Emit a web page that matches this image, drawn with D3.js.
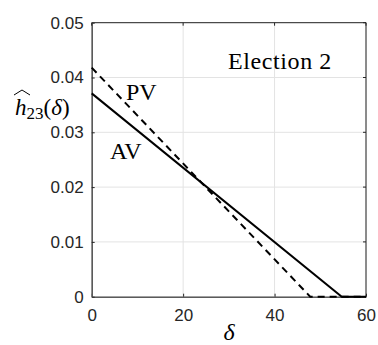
<!DOCTYPE html>
<html>
<head>
<meta charset="utf-8">
<script src="https://cdn.jsdelivr.net/npm/d3@7"></script>
<style>
  body { margin: 0; background: #fff; }
  svg { display: block; }
</style>
</head>
<body>
<script>
// values
var avDelta = [0, 54.7, 60],
    avValues = [0.0371, 0, 0];
var pvDelta = [0, 47.8, 60],
    pvValues = [0.0418, 0, 0];
var xTicks = [0, 20, 40, 60],
    yTicks = [0, 0.01, 0.02, 0.03, 0.04, 0.05];

// dimensions of the plot box
var margin = {top: 22.7, left: 91.7},
    width = 274.3,
    height = 274;

var svg = d3.select("body").append("svg")
    .attr("width", 378)
    .attr("height", 345);

var x = d3.scaleLinear().domain([0, 60]).range([margin.left, margin.left + width]);
var y = d3.scaleLinear().domain([0, 0.05]).range([margin.top + height, margin.top]);

// grid
svg.append("g").selectAll("line.vg")
    .data(xTicks)
  .enter().append("line")
    .attr("x1", function(d) { return x(d); })
    .attr("x2", function(d) { return x(d); })
    .attr("y1", y(0)).attr("y2", y(0.05))
    .style("stroke", "#e3e3e3").style("stroke-width", 1);
svg.append("g").selectAll("line.hg")
    .data(yTicks)
  .enter().append("line")
    .attr("y1", function(d) { return y(d); })
    .attr("y2", function(d) { return y(d); })
    .attr("x1", x(0)).attr("x2", x(60))
    .style("stroke", "#e3e3e3").style("stroke-width", 1);

// box: top and right
svg.append("path")
    .attr("d", "M" + x(0) + "," + y(0.05) + "H" + x(60) + "V" + y(0))
    .style("fill", "none").style("stroke", "#262626").style("stroke-width", 1);

// axes
var fontSans = "'Liberation Sans', Arial, Helvetica, sans-serif";
var xAxis = svg.append("g")
    .attr("transform", "translate(0," + y(0) + ")")
    .call(d3.axisBottom(x).tickValues(xTicks).tickSizeInner(-3).tickSizeOuter(0).tickPadding(12)
      .tickFormat(d3.format("d")));
var yAxis = svg.append("g")
    .attr("transform", "translate(" + x(0) + ",0)")
    .call(d3.axisLeft(y).tickValues(yTicks).tickSizeInner(-3).tickSizeOuter(0).tickPadding(8)
      .tickFormat(function(d) { return d === 0 ? "0" : d3.format(".2f")(d); }));
[xAxis, yAxis].forEach(function(a) {
  a.select(".domain").style("stroke", "#5a5a5a").style("stroke-width", 1.6);
  a.selectAll(".tick line").style("stroke", "#262626");
  a.selectAll(".tick text")
      .style("font-family", fontSans)
      .style("font-size", "17px")
      .style("fill", "#262626");
});

// right-side ticks
svg.append("g").selectAll("line")
    .data(yTicks)
  .enter().append("line")
    .attr("x1", x(60)).attr("x2", x(60) - 3)
    .attr("y1", function(d) { return y(d); })
    .attr("y2", function(d) { return y(d); })
    .style("stroke", "#262626");
svg.append("g").selectAll("line")
    .data(xTicks)
  .enter().append("line")
    .attr("y1", y(0.05)).attr("y2", y(0.05) + 3)
    .attr("x1", function(d) { return x(d); })
    .attr("x2", function(d) { return x(d); })
    .style("stroke", "#262626");

// lines
var line = d3.line()
    .x(function(d) { return x(d[0]); })
    .y(function(d) { return y(d[1]); });

svg.append("path")
    .datum(d3.zip(pvDelta, pvValues))
    .attr("d", line)
    .style("fill", "none").style("stroke", "#000")
    .style("stroke-width", 2).style("stroke-dasharray", "7,5");

svg.append("path")
    .datum(d3.zip(avDelta, avValues))
    .attr("d", line)
    .style("fill", "none").style("stroke", "#000")
    .style("stroke-width", 2);

// labels
var fontSerif = "'Liberation Serif', 'Times New Roman', serif";
svg.append("text")
    .attr("x", 228).attr("y", 69)
    .style("font-family", fontSerif).style("font-size", "24px")
    .style("letter-spacing", "0.6px")
    .text("Election 2");
svg.append("text")
    .attr("x", 126).attr("y", 100)
    .style("font-family", fontSerif).style("font-size", "24px")
    .text("PV");
svg.append("text")
    .attr("x", 110).attr("y", 159)
    .style("font-family", fontSerif).style("font-size", "24px")
    .text("AV");

// x label
svg.append("text")
    .attr("x", 229).attr("y", 340)
    .attr("text-anchor", "middle")
    .style("font-family", fontSerif).style("font-size", "24px").style("font-style", "italic")
    .text("δ");

// y label: widehat h_23(delta)
var yl = svg.append("text")
    .attr("x", 15).attr("y", 115)
    .style("font-family", fontSerif).style("font-size", "23px");
yl.append("tspan").style("font-style", "italic").text("h");
yl.append("tspan").attr("dy", 4).style("font-size", "17px").text("23");
yl.append("tspan").attr("dy", -4).text("(");
yl.append("tspan").style("font-style", "italic").text("δ");
yl.append("tspan").text(")");
svg.append("path")
    .attr("d", "M14,95 L22,90 L30,95")
    .style("fill", "none").style("stroke", "#000").style("stroke-width", 1);
</script>
</body>
</html>
